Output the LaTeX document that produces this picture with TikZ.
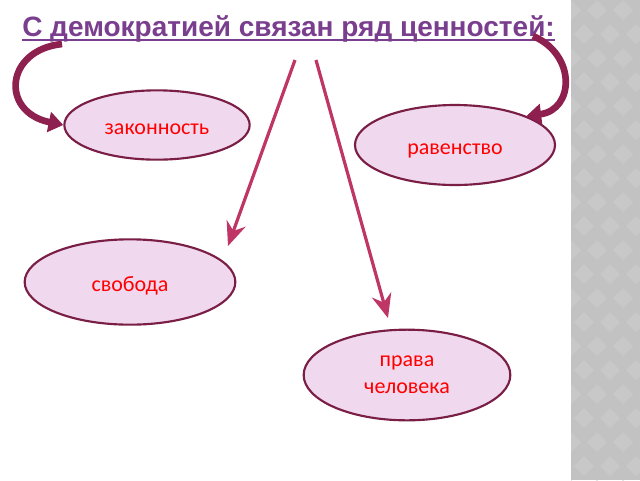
\documentclass[tikz,border=0pt]{standalone}
\usepackage{fontspec}
\setmainfont{Carlito}
\newfontfamily\titlefont{Liberation Sans}
\usetikzlibrary{arrows.meta,shapes.geometric}
\definecolor{ellfill}{HTML}{F0D9EE}
\definecolor{ellborder}{HTML}{7A1E45}
\definecolor{arrowcol}{HTML}{BF3565}
\definecolor{curvecol}{HTML}{8E2050}
\definecolor{titlecol}{HTML}{7A3E8E}
\definecolor{stripcol}{HTML}{C2C2C2}
\definecolor{stripdia}{HTML}{C8C8C8}
\tikzset{
  value/.style={ellipse, draw=ellborder, line width=1.6pt, fill=ellfill, inner sep=0pt,
    text=red, font=\fontsize{16.5}{20}\selectfont, align=center},
  oneline/.style={text height=13.5pt, text depth=0pt},
  straightarrow/.style={draw=arrowcol, line width=2.4pt, -{Stealth[length=18pt,width=15pt,inset=6pt]}},
  curvearrow/.style={draw=curvecol, line width=5pt, -{Triangle[length=11pt,width=15pt]}},
}
\begin{document}
\begin{tikzpicture}[x=0.75pt,y=-0.75pt]
\useasboundingbox (0,0) rectangle (640,480);
\fill[white] (0,0) rectangle (640,480);
% strip
\fill[stripcol] (571,0) rectangle (640,480);
\begin{scope}
\clip (571,0) rectangle (640,480);
\foreach \i in {0,...,3} {
  \foreach \j in {0,...,20} {
    \fill[stripdia] ({571+\i*26+mod(\j,2)*13},{\j*24}) -- ++(10,10) -- ++(-10,10) -- ++(-10,-10) -- cycle;
  }
}
\end{scope}
% title
\node[anchor=base west, text=titlecol, inner sep=0pt, font=\titlefont\bfseries\fontsize{21}{24}\selectfont] (title) at (22,36) {С демократией связан ряд ценностей:};
\draw[titlecol, line width=1.5pt] ([yshift=-3.2pt]title.base west) -- ([yshift=-3.2pt]title.base east);
% ellipses
\node[value, oneline, minimum width=139pt, minimum height=52pt] (zak) at (157,125) {законность};
\node[value, oneline, minimum width=150pt, minimum height=60pt] (rav) at (455,145) {равенство};
\node[value, oneline, minimum width=158pt, minimum height=64pt] (svo) at (130,282) {свобода};
\node[value, minimum width=155pt, minimum height=68pt] (prav) at (407,375) {права\\человека};
% arrow tails
\coordinate (t1) at (295,60);
\coordinate (t2) at (316,60);
\coordinate (c1) at (62,44);
\coordinate (c2) at (533,36);
\coordinate (h1) at (228,246);
\coordinate (h2) at (388,318);
\draw[straightarrow] (t1) -- (h1);
\draw[straightarrow] (t2) -- (h2);
\draw[curvearrow] (c1) .. controls (5,50) and (0,112) .. (zak.west);
\draw[curvearrow] (c2) .. controls (577,55) and (574,110) .. (rav.north east);
\end{tikzpicture}
\end{document}
